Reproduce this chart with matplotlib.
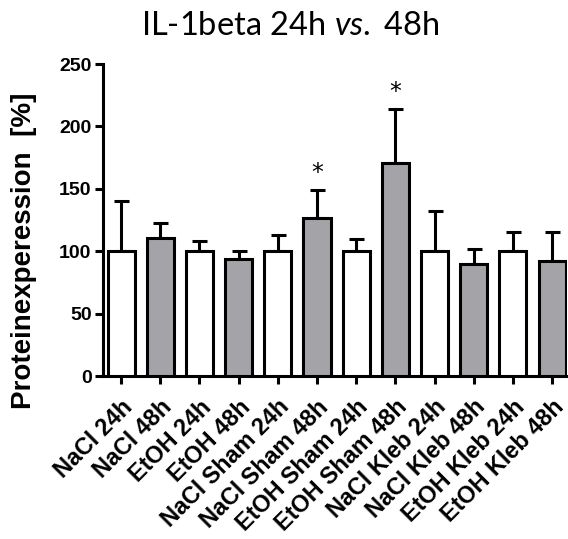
import matplotlib
matplotlib.use("Agg")
import matplotlib.pyplot as plt

# values
groups = ["NaCl 24h", "NaCl 48h", "EtOH 24h", "EtOH 48h",
          "NaCl Sham 24h", "NaCl Sham 48h", "EtOH Sham 24h", "EtOH Sham 48h",
          "NaCl Kleb 24h", "NaCl Kleb 48h", "EtOH Kleb 24h", "EtOH Kleb 48h"]
means = [100, 110.5, 100, 93.5, 100, 127, 100, 171, 100, 90, 100, 92.5]
errors = [40, 12.5, 8.5, 7, 13, 22, 9.5, 43, 32, 12, 15, 23]
significant = [False, False, False, False, False, True, False, True,
               False, False, False, False]
y_ticks = [0, 50, 100, 150, 200, 250]

plt.rcParams["font.family"] = ["Liberation Sans", "DejaVu Sans"]
plt.rcParams["mathtext.fontset"] = "custom"
plt.rcParams["mathtext.rm"] = "Lato"
plt.rcParams["mathtext.it"] = "Lato:italic"

sans = ["Liberation Sans", "DejaVu Sans"]
lw = 2.2
fig = plt.figure(figsize=(5.68, 5.39), dpi=100)
ax = fig.add_axes([0.1808, 0.3024, 0.8174, 0.5788])

x = list(range(len(groups)))
colors = ["white" if i % 2 == 0 else "#a3a3a8" for i in x]
ax.bar(x, means, width=0.69, color=colors, edgecolor="black", linewidth=lw, zorder=3)
ax.errorbar(x, means, yerr=[[0] * len(errors), errors], fmt="none",
            ecolor="black", elinewidth=lw, capsize=5.4, capthick=lw, zorder=2)

for i, sig in enumerate(significant):
    if sig:
        ax.text(i, means[i] + errors[i] + 4, "*", ha="center", va="bottom",
                fontsize=17, family="DejaVu Sans")

ax.set_xlim(-0.47, 11.38)
ax.set_ylim(0, 250)
ax.set_yticks(y_ticks)
ax.set_yticklabels([str(v) for v in y_ticks], fontsize=14, fontweight="bold",
                   family=sans)
ax.set_xticks(x)
ax.set_xticklabels(groups, rotation=45, ha="right", va="top",
                   rotation_mode="anchor", fontsize=16.8, fontweight="bold",
                   family=sans)
ax.tick_params(axis="y", length=6, width=lw, pad=2)
ax.tick_params(axis="x", length=6, width=lw, pad=8)

for side in ["top", "right"]:
    ax.spines[side].set_visible(False)
for side in ["left", "bottom"]:
    ax.spines[side].set_linewidth(lw)

fig.text(0.042, 0.534, "Proteinexperession  [%]", rotation=90, ha="center",
         va="center", fontsize=20, fontweight="bold", family=sans)

fig.text(0.512, 0.952, r"IL-1beta 24h $\mathit{vs.}$ 48h", ha="center",
         va="center", fontsize=23.5, family="Lato")

fig.savefig("out.png", dpi=100)
